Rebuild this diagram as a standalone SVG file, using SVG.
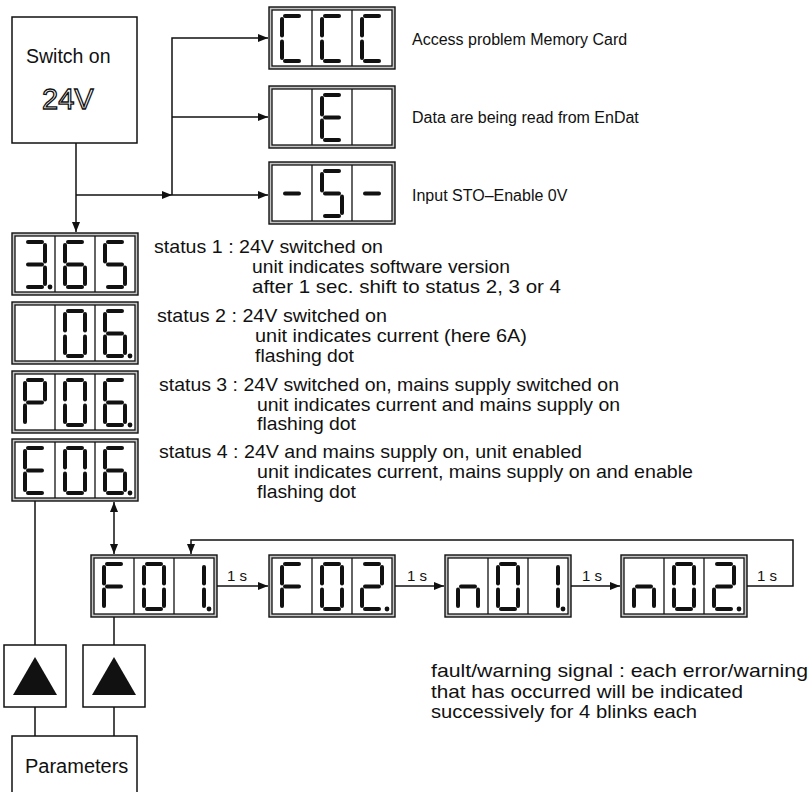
<svg xmlns="http://www.w3.org/2000/svg" xmlns:xlink="http://www.w3.org/1999/xlink" width="812" height="792" viewBox="0 0 812 792">
<style>
  .box { fill: #ffffff; stroke: #111; stroke-width: 1.5; }
  .fo { fill: #c4c4c4; stroke: #111; stroke-width: 1.4; }
  .fi { fill: #ffffff; stroke: #111; stroke-width: 1.3; }
  .dv { stroke: #111; stroke-width: 1.3; }
  .ln { fill: none; stroke: #111; stroke-width: 1.5; }
  .t { font-family: "Liberation Sans", Arial, sans-serif; fill: #111; }
  .st { font-size: 18.5px; }
  .lb { font-size: 16px; }
  .sec { font-size: 15px; }
  .ft { font-size: 18.5px; }
</style>
<defs>
  <marker id="ah" markerWidth="10" markerHeight="8" refX="10" refY="4" orient="auto-start-reverse" markerUnits="userSpaceOnUse">
    <path d="M0,0 L10,4 L0,8 z" fill="#111"/>
  </marker>
  <line id="sa" x1="5" y1="2" x2="19" y2="2"/>
  <line id="sb" x1="22" y1="5" x2="22" y2="21.5"/>
  <line id="sc" x1="22" y1="27.5" x2="22" y2="44"/>
  <line id="sd" x1="5" y1="47" x2="19" y2="47"/>
  <line id="se" x1="2" y1="27.5" x2="2" y2="44"/>
  <line id="sf" x1="2" y1="5" x2="2" y2="21.5"/>
  <line id="sg" x1="5" y1="24.5" x2="19" y2="24.5"/>
  <g id="d3"><use href="#sa"/><use href="#sb"/><use href="#sc"/><use href="#sd"/><use href="#sg"/></g>
  <g id="d6"><use href="#sa"/><use href="#sf"/><use href="#sg"/><use href="#se"/><use href="#sc"/><use href="#sd"/></g>
  <g id="d5"><use href="#sa"/><use href="#sf"/><use href="#sg"/><use href="#sc"/><use href="#sd"/></g>
  <g id="d0"><use href="#sa"/><use href="#sb"/><use href="#sc"/><use href="#sd"/><use href="#se"/><use href="#sf"/></g>
  <g id="dP"><use href="#sa"/><use href="#sb"/><use href="#sf"/><use href="#sg"/><use href="#se"/></g>
  <g id="dE"><use href="#sa"/><use href="#sf"/><use href="#sg"/><use href="#se"/><use href="#sd"/></g>
  <g id="dF"><use href="#sa"/><use href="#sf"/><use href="#sg"/><use href="#se"/></g>
  <g id="d1"><use href="#sb"/><use href="#sc"/></g>
  <g id="d2"><use href="#sa"/><use href="#sb"/><use href="#sg"/><use href="#se"/><use href="#sd"/></g>
  <g id="dn"><use href="#sg"/><use href="#se"/><use href="#sc"/></g>
  <g id="dC"><use href="#sa"/><use href="#sf"/><use href="#se"/><use href="#sd"/></g>
  <g id="dm"><use href="#sg"/></g>
  <circle id="dot" cx="27" cy="47" r="2.4"/>
  <g id="frame">
    <rect class="fo" x="0" y="0" width="126" height="62"/>
    <rect class="fi" x="3" y="3" width="120" height="56"/>
    <line class="dv" x1="43" y1="3" x2="43" y2="59"/>
    <line class="dv" x1="83" y1="3" x2="83" y2="59"/>
  </g>
</defs>

<rect x="0" y="0" width="812" height="792" fill="#ffffff"/>

<g id="connectors" class="ln">
  <line x1="76" y1="143" x2="76" y2="232" marker-end="url(#ah)"/>
  <line x1="76" y1="195" x2="172" y2="195" marker-end="url(#ah)"/>
  <line x1="172" y1="195" x2="268" y2="195" marker-end="url(#ah)"/>
  <polyline points="172,195 172,38 268,38" marker-end="url(#ah)"/>
  <line x1="172" y1="117" x2="268" y2="117" marker-end="url(#ah)"/>
  <line x1="35" y1="501" x2="35" y2="645"/>
  <line x1="114" y1="502" x2="114" y2="554" marker-start="url(#ah)" marker-end="url(#ah)"/>
  <line x1="114" y1="617" x2="114" y2="645"/>
  <line x1="35" y1="707" x2="35" y2="736"/>
  <line x1="114" y1="707" x2="114" y2="736"/>
  <line x1="217" y1="586" x2="268" y2="586" marker-end="url(#ah)"/>
  <line x1="395" y1="586" x2="444" y2="586" marker-end="url(#ah)"/>
  <line x1="571" y1="586" x2="620" y2="586" marker-end="url(#ah)"/>
  <polyline points="747,586 793,586 793,540 191,540 191,554" marker-end="url(#ah)"/>
</g>

<g id="switch-on">
  <rect class="box" x="12" y="17" width="125" height="126"/>
  <text class="t" x="26" y="63" font-size="19.5">Switch on</text>
  <text x="42" y="109" font-family="Liberation Sans, Arial, sans-serif" font-size="29" fill="#ffffff" stroke="#111" stroke-width="1.3">24V</text>
</g>

<g id="disp-ccc">
  <use href="#frame" x="269" y="7"/>
  <g stroke="#111" stroke-width="4" stroke-linecap="round">
    <use href="#dC" x="280" y="14"/><use href="#dC" x="320" y="14"/><use href="#dC" x="360" y="14"/>
  </g>
  <text class="t lb" x="412" y="45">Access problem Memory Card</text>
</g>

<g id="disp-e">
  <use href="#frame" x="269" y="86"/>
  <g stroke="#111" stroke-width="4" stroke-linecap="round">
    <use href="#dE" x="320" y="93"/>
  </g>
  <text class="t lb" x="412" y="123">Data are being read from EnDat</text>
</g>

<g id="disp-s">
  <use href="#frame" x="269" y="162"/>
  <g stroke="#111" stroke-width="4" stroke-linecap="round">
    <use href="#dm" x="280" y="169"/><use href="#d5" x="320" y="169"/><use href="#dm" x="360" y="169"/>
  </g>
  <text class="t lb" x="412" y="201">Input STO–Enable 0V</text>
</g>

<g id="status-1">
  <use href="#frame" x="12" y="233"/>
  <g stroke="#111" stroke-width="4" stroke-linecap="round">
    <use href="#d3" x="23" y="240"/><use href="#d6" x="63" y="240"/><use href="#d5" x="103" y="240"/>
  </g>
  <use href="#dot" x="23" y="240" fill="#111"/>
  <text class="t st" x="154" y="253" textLength="229" lengthAdjust="spacingAndGlyphs">status 1 : 24V switched on</text>
  <text class="t st" x="252" y="273" textLength="258" lengthAdjust="spacingAndGlyphs">unit indicates software version</text>
  <text class="t st" x="252" y="293" textLength="309" lengthAdjust="spacingAndGlyphs">after 1 sec. shift to status 2, 3 or 4</text>
</g>

<g id="status-2">
  <use href="#frame" x="12" y="302"/>
  <g stroke="#111" stroke-width="4" stroke-linecap="round">
    <use href="#d0" x="63" y="309"/><use href="#d6" x="103" y="309"/>
  </g>
  <use href="#dot" x="103" y="309" fill="#111"/>
  <text class="t st" x="157" y="322" textLength="230" lengthAdjust="spacingAndGlyphs">status 2 : 24V switched on</text>
  <text class="t st" x="255" y="342" textLength="272" lengthAdjust="spacingAndGlyphs">unit indicates current (here 6A)</text>
  <text class="t st" x="255" y="362" textLength="99" lengthAdjust="spacingAndGlyphs">flashing dot</text>
</g>

<g id="status-3">
  <use href="#frame" x="12" y="371"/>
  <g stroke="#111" stroke-width="4" stroke-linecap="round">
    <use href="#dP" x="23" y="378"/><use href="#d0" x="63" y="378"/><use href="#d6" x="103" y="378"/>
  </g>
  <use href="#dot" x="103" y="378" fill="#111"/>
  <text class="t st" x="159" y="391" textLength="460" lengthAdjust="spacingAndGlyphs">status 3 : 24V switched on, mains supply switched on</text>
  <text class="t st" x="257" y="410.5" textLength="363" lengthAdjust="spacingAndGlyphs">unit indicates current and mains supply on</text>
  <text class="t st" x="257" y="430" textLength="99" lengthAdjust="spacingAndGlyphs">flashing dot</text>
</g>

<g id="status-4">
  <use href="#frame" x="12" y="439"/>
  <g stroke="#111" stroke-width="4" stroke-linecap="round">
    <use href="#dE" x="23" y="446"/><use href="#d0" x="63" y="446"/><use href="#d6" x="103" y="446"/>
  </g>
  <use href="#dot" x="103" y="446" fill="#111"/>
  <text class="t st" x="159" y="458" textLength="423" lengthAdjust="spacingAndGlyphs">status 4 : 24V and mains supply on, unit enabled</text>
  <text class="t st" x="257" y="478" textLength="436" lengthAdjust="spacingAndGlyphs">unit indicates current, mains supply on and enable</text>
  <text class="t st" x="257" y="497.5" textLength="99" lengthAdjust="spacingAndGlyphs">flashing dot</text>
</g>

<g id="disp-f01">
  <use href="#frame" x="91" y="555"/>
  <g stroke="#111" stroke-width="4" stroke-linecap="round">
    <use href="#dF" x="102" y="562"/><use href="#d0" x="142" y="562"/><use href="#d1" x="182" y="562"/>
  </g>
  <use href="#dot" x="182" y="562" fill="#111"/>
</g>

<g id="disp-f02">
  <use href="#frame" x="269" y="555"/>
  <g stroke="#111" stroke-width="4" stroke-linecap="round">
    <use href="#dF" x="280" y="562"/><use href="#d0" x="320" y="562"/><use href="#d2" x="360" y="562"/>
  </g>
  <use href="#dot" x="360" y="562" fill="#111"/>
</g>

<g id="disp-n01">
  <use href="#frame" x="445" y="555"/>
  <g stroke="#111" stroke-width="4" stroke-linecap="round">
    <use href="#dn" x="456" y="562"/><use href="#d0" x="496" y="562"/><use href="#d1" x="536" y="562"/>
  </g>
  <use href="#dot" x="536" y="562" fill="#111"/>
</g>

<g id="disp-n02">
  <use href="#frame" x="621" y="555"/>
  <g stroke="#111" stroke-width="4" stroke-linecap="round">
    <use href="#dn" x="632" y="562"/><use href="#d0" x="672" y="562"/><use href="#d2" x="712" y="562"/>
  </g>
  <use href="#dot" x="712" y="562" fill="#111"/>
</g>

<g id="timing-labels">
  <text class="t sec" x="227" y="581">1 s</text>
  <text class="t sec" x="407" y="581">1 s</text>
  <text class="t sec" x="582" y="581">1 s</text>
  <text class="t sec" x="757" y="581">1 s</text>
</g>

<g id="key-up-1">
  <rect class="box" x="4" y="645" width="62" height="62"/>
  <polygon points="35,657 57,695 13,695" fill="#111"/>
</g>

<g id="key-up-2">
  <rect class="box" x="83" y="645" width="62" height="62"/>
  <polygon points="114,657 136,695 92,695" fill="#111"/>
</g>

<g id="parameters">
  <rect class="box" x="12" y="736" width="125" height="70"/>
  <text class="t" x="25" y="773" font-size="20">Parameters</text>
</g>

<g id="fault-note">
  <text class="t ft" x="431" y="677" textLength="377" lengthAdjust="spacingAndGlyphs">fault/warning signal : each error/warning</text>
  <text class="t ft" x="431" y="697.5" textLength="312" lengthAdjust="spacingAndGlyphs">that has occurred will be indicated</text>
  <text class="t ft" x="431" y="718" textLength="266" lengthAdjust="spacingAndGlyphs">successively for 4 blinks each</text>
</g>
</svg>
